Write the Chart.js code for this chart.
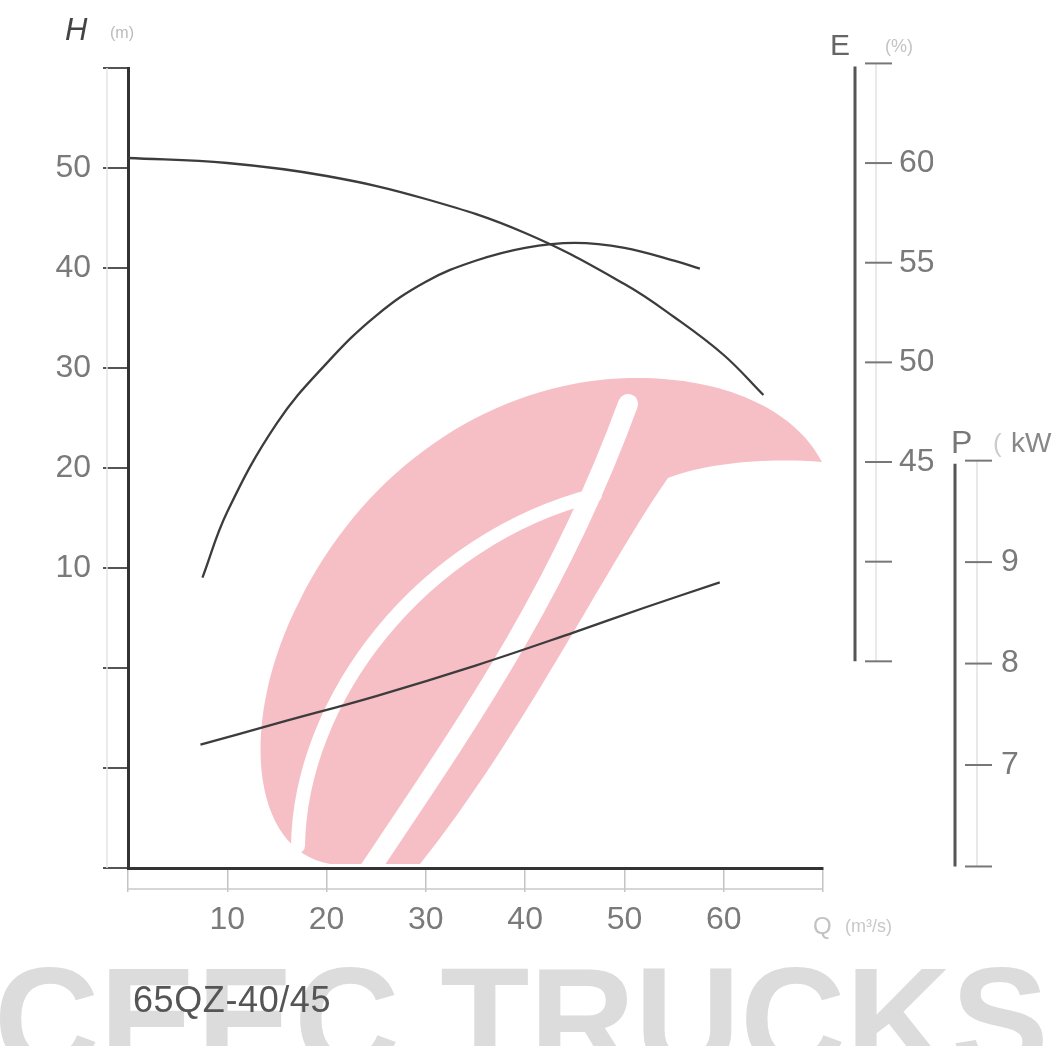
<!DOCTYPE html>
<html>
<head>
<meta charset="utf-8">
<script src="https://cdn.jsdelivr.net/npm/chart.js@4.4.1/dist/chart.umd.min.js"></script>
<style>
  html, body { margin: 0; padding: 0; background: #fff; }
  #wrap { position: relative; width: 1055px; height: 1046px; overflow: hidden; }
  #brand { position: absolute; left: -6px; top: 936px; line-height: 1; font: bold 146px "Liberation Sans", Arial, sans-serif; color: #dcdcdc; white-space: nowrap; }
  #model { position: absolute; left: 133px; top: 979px; line-height: 1; font: 36px "Liberation Sans", Arial, sans-serif; letter-spacing: 0.6px; color: #555; }
  canvas { position: absolute; left: 0; top: 0; }
</style>
</head>
<body>
<div id="wrap">
  <div id="brand">CEEC TRUCKS</div>
  <canvas id="pumpChart" width="1055" height="1046"></canvas>
  <div id="model">65QZ-40/45</div>
</div>
<script>
// Q - H curve
const headQ = [0, 10, 20, 30, 40, 50, 55, 60, 64];
const headH = [51.0, 50.5, 49.2, 46.9, 43.5, 38.4, 35.1, 31.3, 27.3];
// Q - efficiency curve
const effQ = [7.5, 10, 15, 20, 25, 30, 35, 40, 45, 50, 55, 57.6];
const effE = [39.2, 42.5, 46.95, 49.95, 52.35, 54.05, 55.1, 55.75, 56.0, 55.75, 55.1, 54.7];
// Q - power curve
const powQ = [7.3, 15, 25, 35, 45, 52, 59.6];
const powP = [7.2, 7.41, 7.68, 7.98, 8.31, 8.55, 8.8];

// ticks, and the ones that carry a label
const qTicks = [0, 10, 20, 30, 40, 50, 60, 70];
const qLabels = [10, 20, 30, 40, 50, 60];
const hTicks = [-20, -10, 0, 10, 20, 30, 40, 50, 60];
const hLabels = [10, 20, 30, 40, 50];
const eTicks = [35, 40, 45, 50, 55, 60, 65];
const eLabels = [45, 50, 55, 60];
const pTicks = [6, 7, 8, 9, 10];
const pLabels = [7, 8, 9];

const FONT = '"Liberation Sans", Arial, sans-serif';
const LABEL_COLOR = '#7a7a7a';
const CURVE_COLOR = '#3c3c3c';

Chart.defaults.font.family = FONT;

function pts(xs, ys) {
    return xs.map((x, i) => ({ x: x, y: ys[i] }));
}

function fixTicks(list) {
    return function (scale) {
        scale.ticks = list.map(v => ({ value: v }));
    };
}

function onlyLabels(list) {
    return function (v) {
        return list.includes(v) ? String(v) : '';
    };
}

// the big label padding of the side scales must not push the plot down
function sideFit(width) {
    return function (scale) {
        scale.width = width;
        scale.paddingTop = 0;
        scale.paddingBottom = 0;
    };
}

// watermark logo behind the curves
function drawLogo(ctx) {
    ctx.save();
    ctx.fillStyle = '#f6bfc5';
    ctx.beginPath();
    ctx.moveTo(330, 864);
    ctx.bezierCurveTo(250, 850, 238, 720, 300, 600);
    ctx.bezierCurveTo(360, 480, 470, 395, 600, 380);
    ctx.bezierCurveTo(700, 370, 790, 400, 822, 462);
    ctx.bezierCurveTo(770, 458, 710, 462, 668, 478);
    ctx.bezierCurveTo(610, 560, 520, 740, 420, 864);
    ctx.closePath();
    ctx.fill();
    ctx.strokeStyle = '#fff';
    ctx.lineCap = 'round';
    ctx.lineWidth = 14;
    ctx.beginPath();
    ctx.moveTo(298, 846);
    ctx.bezierCurveTo(300, 700, 420, 540, 595, 495);
    ctx.stroke();
    ctx.lineWidth = 20;
    ctx.beginPath();
    ctx.moveTo(368, 872);
    ctx.bezierCurveTo(470, 720, 560, 590, 628, 404);
    ctx.stroke();
    ctx.restore();
}

// the E and P scales are drawn as two free standing rulers right of the plot
function drawRuler(ctx, scale, ticks, darkX, lightX, t0, t1) {
    const top = scale.getPixelForValue(ticks[ticks.length - 1]);
    const bottom = scale.getPixelForValue(ticks[0]);
    ctx.strokeStyle = '#e2e2e2';
    ctx.lineWidth = 1.5;
    ctx.beginPath();
    ctx.moveTo(lightX, top);
    ctx.lineTo(lightX, bottom);
    ctx.stroke();
    ctx.strokeStyle = '#555';
    ctx.lineWidth = 3;
    ctx.beginPath();
    ctx.moveTo(darkX, top + 3);
    ctx.lineTo(darkX, bottom);
    ctx.stroke();
    ctx.strokeStyle = '#777';
    ctx.lineWidth = 2;
    ticks.forEach(v => {
        const y = scale.getPixelForValue(v);
        ctx.beginPath();
        ctx.moveTo(t0, y);
        ctx.lineTo(t1, y);
        ctx.stroke();
    });
}

const extras = {
    id: 'extras',
    beforeDraw(chart) {
        drawLogo(chart.ctx);
    },
    afterDraw(chart) {
        const ctx = chart.ctx;
        const area = chart.chartArea;
        const sx = chart.scales.x;
        const sh = chart.scales.y;
        const se = chart.scales.yE;
        const sp = chart.scales.yP;
        ctx.save();

        // faint guide lines next to the H axis and under the Q axis
        ctx.strokeStyle = '#e4e4e4';
        ctx.lineWidth = 1.5;
        ctx.beginPath();
        ctx.moveTo(area.left - 21, sh.getPixelForValue(60));
        ctx.lineTo(area.left - 21, sh.getPixelForValue(-20));
        ctx.stroke();
        ctx.strokeStyle = '#c8c8c8';
        ctx.beginPath();
        ctx.moveTo(sx.getPixelForValue(0), area.bottom + 21);
        ctx.lineTo(sx.getPixelForValue(70), area.bottom + 21);
        ctx.stroke();

        drawRuler(ctx, se, eTicks, se.left + 32, se.left + 53, se.left + 42, se.left + 69);
        drawRuler(ctx, sp, pTicks, sp.left + 22, sp.left + 44, sp.left + 32, sp.left + 59);

        // axis titles
        ctx.textBaseline = 'alphabetic';
        ctx.textAlign = 'left';
        ctx.fillStyle = '#444';
        ctx.font = 'italic 31px ' + FONT;
        ctx.fillText('H', area.left - 63, 40);
        ctx.fillStyle = '#bbb';
        ctx.font = '16px ' + FONT;
        ctx.fillText('(m)', area.left - 18, 38);

        ctx.fillStyle = '#666';
        ctx.font = '30px ' + FONT;
        ctx.fillText('E', se.left + 7, 55);
        ctx.fillStyle = '#c4c4c4';
        ctx.font = '18px ' + FONT;
        ctx.fillText('(%)', se.left + 62, 52);

        ctx.fillStyle = '#777';
        ctx.font = '32px ' + FONT;
        ctx.fillText('P', sp.left + 18, 453);
        ctx.fillStyle = '#ccc';
        ctx.font = '26px ' + FONT;
        ctx.fillText('(', sp.left + 60, 452);
        ctx.fillStyle = '#888';
        ctx.font = '28px ' + FONT;
        ctx.fillText('kW', sp.left + 78, 452);

        ctx.fillStyle = '#c2c2c2';
        ctx.font = '24px ' + FONT;
        ctx.fillText('Q', area.right - 10, 934);
        ctx.fillStyle = '#c8c8c8';
        ctx.font = '18px ' + FONT;
        ctx.fillText('(m³/s)', area.right + 22, 932);
        ctx.restore();
    }
};

const ctx = document.getElementById('pumpChart').getContext('2d');
new Chart(ctx, {
    type: 'line',
    data: {
        datasets: [
            {
                label: 'H',
                data: pts(headQ, headH),
                yAxisID: 'y',
            },
            {
                label: 'E',
                data: pts(effQ, effE),
                yAxisID: 'yE',
            },
            {
                label: 'P',
                data: pts(powQ, powP),
                yAxisID: 'yP',
            },
        ],
    },
    options: {
        responsive: false,
        animation: false,
        layout: { padding: { top: 68, left: 0, right: 0, bottom: 0 } },
        elements: {
            line: { borderColor: CURVE_COLOR, borderWidth: 2.3, fill: false, tension: 0.4 },
            point: { radius: 0 },
        },
        plugins: {
            legend: { display: false },
            tooltip: { enabled: false },
        },
        scales: {
            x: {
                type: 'linear',
                min: 0,
                max: 70,
                afterBuildTicks: fixTicks(qTicks),
                afterFit: s => { s.height = 178; },
                grid: { drawOnChartArea: false, tickLength: 24, color: '#c4c4c4', lineWidth: 1.5 },
                border: { color: '#333', width: 3 },
                ticks: { callback: onlyLabels(qLabels), color: LABEL_COLOR, padding: 9, maxRotation: 0, autoSkip: false, font: { size: 32 } },
            },
            y: {
                position: 'left',
                min: -20,
                max: 60,
                afterBuildTicks: fixTicks(hTicks),
                afterFit: s => { s.width = 128; },
                grid: { drawOnChartArea: false, tickLength: 25, color: '#555', lineWidth: 2 },
                border: { color: '#333', width: 3 },
                ticks: { callback: onlyLabels(hLabels), color: LABEL_COLOR, padding: 12, autoSkip: false, font: { size: 32 } },
            },
            yE: {
                position: 'right',
                weight: 1,
                min: 24.63,
                max: 64.77,
                afterBuildTicks: fixTicks(eTicks),
                afterFit: sideFit(110),
                grid: { display: false, drawTicks: false },
                border: { display: false },
                ticks: { callback: onlyLabels(eLabels), color: LABEL_COLOR, padding: 76, autoSkip: false, font: { size: 32 } },
            },
            yP: {
                position: 'right',
                weight: 2,
                min: 5.985,
                max: 13.87,
                afterBuildTicks: fixTicks(pTicks),
                afterFit: sideFit(122),
                grid: { display: false, drawTicks: false },
                border: { display: false },
                ticks: { callback: onlyLabels(pLabels), color: LABEL_COLOR, padding: 68, autoSkip: false, font: { size: 32 } },
            },
        },
    },
    plugins: [extras],
});
</script>
</body>
</html>
